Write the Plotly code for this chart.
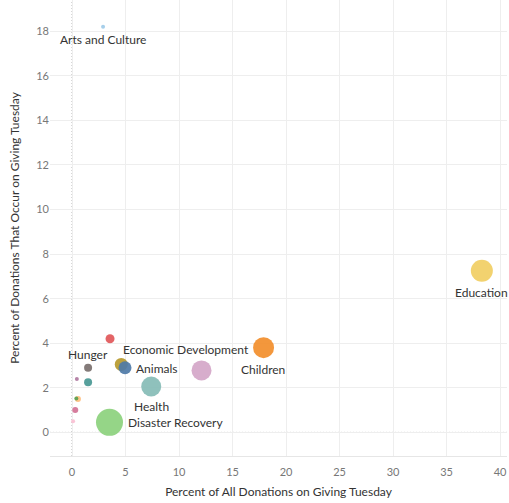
import plotly.graph_objects as go

categories = ["Arts and Culture", "Education", "Children", "Other A", "Health",
              "Disaster Recovery", "Economic Development", "Animals", "Other B",
              "Hunger", "Other C", "Other D", "Other E", "Other F", "Other G", "Other H"]
pct_all = [2.9, 38.3, 17.9, 12.1, 7.4, 3.5, 4.6, 4.95, 3.55, 1.5, 1.5, 0.45, 0.55, 0.4, 0.3, 0.1]
pct_gt = [18.2, 7.25, 3.8, 2.78, 2.06, 0.45, 3.05, 2.9, 4.2, 2.9, 2.25, 2.4, 1.5, 1.52, 1.0, 0.5]
bubble = [4, 22, 21, 20, 20, 27, 13, 13, 9, 8, 8, 4, 6, 4, 6, 4]
colors = ["#A0CBE8", "#F1CE63", "#F28E2B", "#D4A6C8", "#86BCB6", "#8CD17D", "#B6992D",
          "#4E79A7", "#E15759", "#79706E", "#499894", "#B07AA1", "#FFBE7D", "#59A14F",
          "#D37295", "#FABFD2"]
labeled = ["Arts and Culture", "Education", "Children", "Health", "Disaster Recovery",
           "Economic Development", "Animals", "Hunger"]
label_style = {
    "Arts and Culture": dict(xanchor="center", xshift=0, yshift=-13),
    "Education": dict(xanchor="center", xshift=0, yshift=-22),
    "Children": dict(xanchor="center", xshift=-1, yshift=-22),
    "Health": dict(xanchor="center", xshift=0, yshift=-20),
    "Disaster Recovery": dict(xanchor="left", xshift=17, yshift=0),
    "Economic Development": dict(xanchor="left", xshift=0, yshift=15),
    "Animals": dict(xanchor="left", xshift=9, yshift=-1),
    "Hunger": dict(xanchor="center", xshift=0, yshift=13),
}

FONT = "Lato"
fig = go.Figure()
fig.add_trace(go.Scatter(
    x=pct_all, y=pct_gt, mode="markers",
    marker=dict(size=bubble, sizemode="diameter", color=colors, opacity=0.92,
                line=dict(width=0)),
    text=categories, hoverinfo="text", showlegend=False,
))

annotations = []
for name, x, y in zip(categories, pct_all, pct_gt):
    if name in labeled:
        st = label_style[name]
        annotations.append(dict(x=x, y=y, text=name, showarrow=False,
                                xanchor=st["xanchor"], yanchor="middle",
                                xshift=st["xshift"], yshift=st["yshift"],
                                font=dict(family=FONT, size=12, color="#333333")))

fig.update_layout(
    width=509, height=503,
    margin=dict(l=50, r=2, t=0, b=47),
    paper_bgcolor="white", plot_bgcolor="white",
    font=dict(family=FONT, size=11, color="#333333"),
    annotations=annotations,
    shapes=[
        dict(type="line", xref="x", yref="paper", x0=0, x1=0, y0=0, y1=1,
             line=dict(color="#AAAAAA", width=1, dash="1px,2px"), layer="below"),
        dict(type="line", xref="paper", yref="y", x0=0, x1=1, y0=0, y1=0,
             line=dict(color="#AAAAAA", width=1, dash="1px,2px"), layer="below"),
    ],
)
fig.update_xaxes(
    range=[-2.06, 40.65], tickvals=[0, 5, 10, 15, 20, 25, 30, 35, 40],
    showgrid=True, gridcolor="#EEEEEE", zeroline=False,
    showline=True, linecolor="#E6E6E6", ticks="outside", ticklen=6, tickcolor="rgba(0,0,0,0)",
    tickfont=dict(family=FONT, size=11, color="#777777"),
    title=dict(text="Percent of All Donations on Giving Tuesday",
               font=dict(family=FONT, size=12, color="#333333"), standoff=10),
)
fig.update_yaxes(
    range=[-1.06, 19.4], tickvals=[0, 2, 4, 6, 8, 10, 12, 14, 16, 18],
    showgrid=True, gridcolor="#EEEEEE", zeroline=False, ticks="",
    tickfont=dict(family=FONT, size=11, color="#777777"),
    title=dict(text="Percent of Donations That Occur on Giving Tuesday",
               font=dict(family=FONT, size=12, color="#333333"), standoff=14),
)
fig.write_html("out.html")
